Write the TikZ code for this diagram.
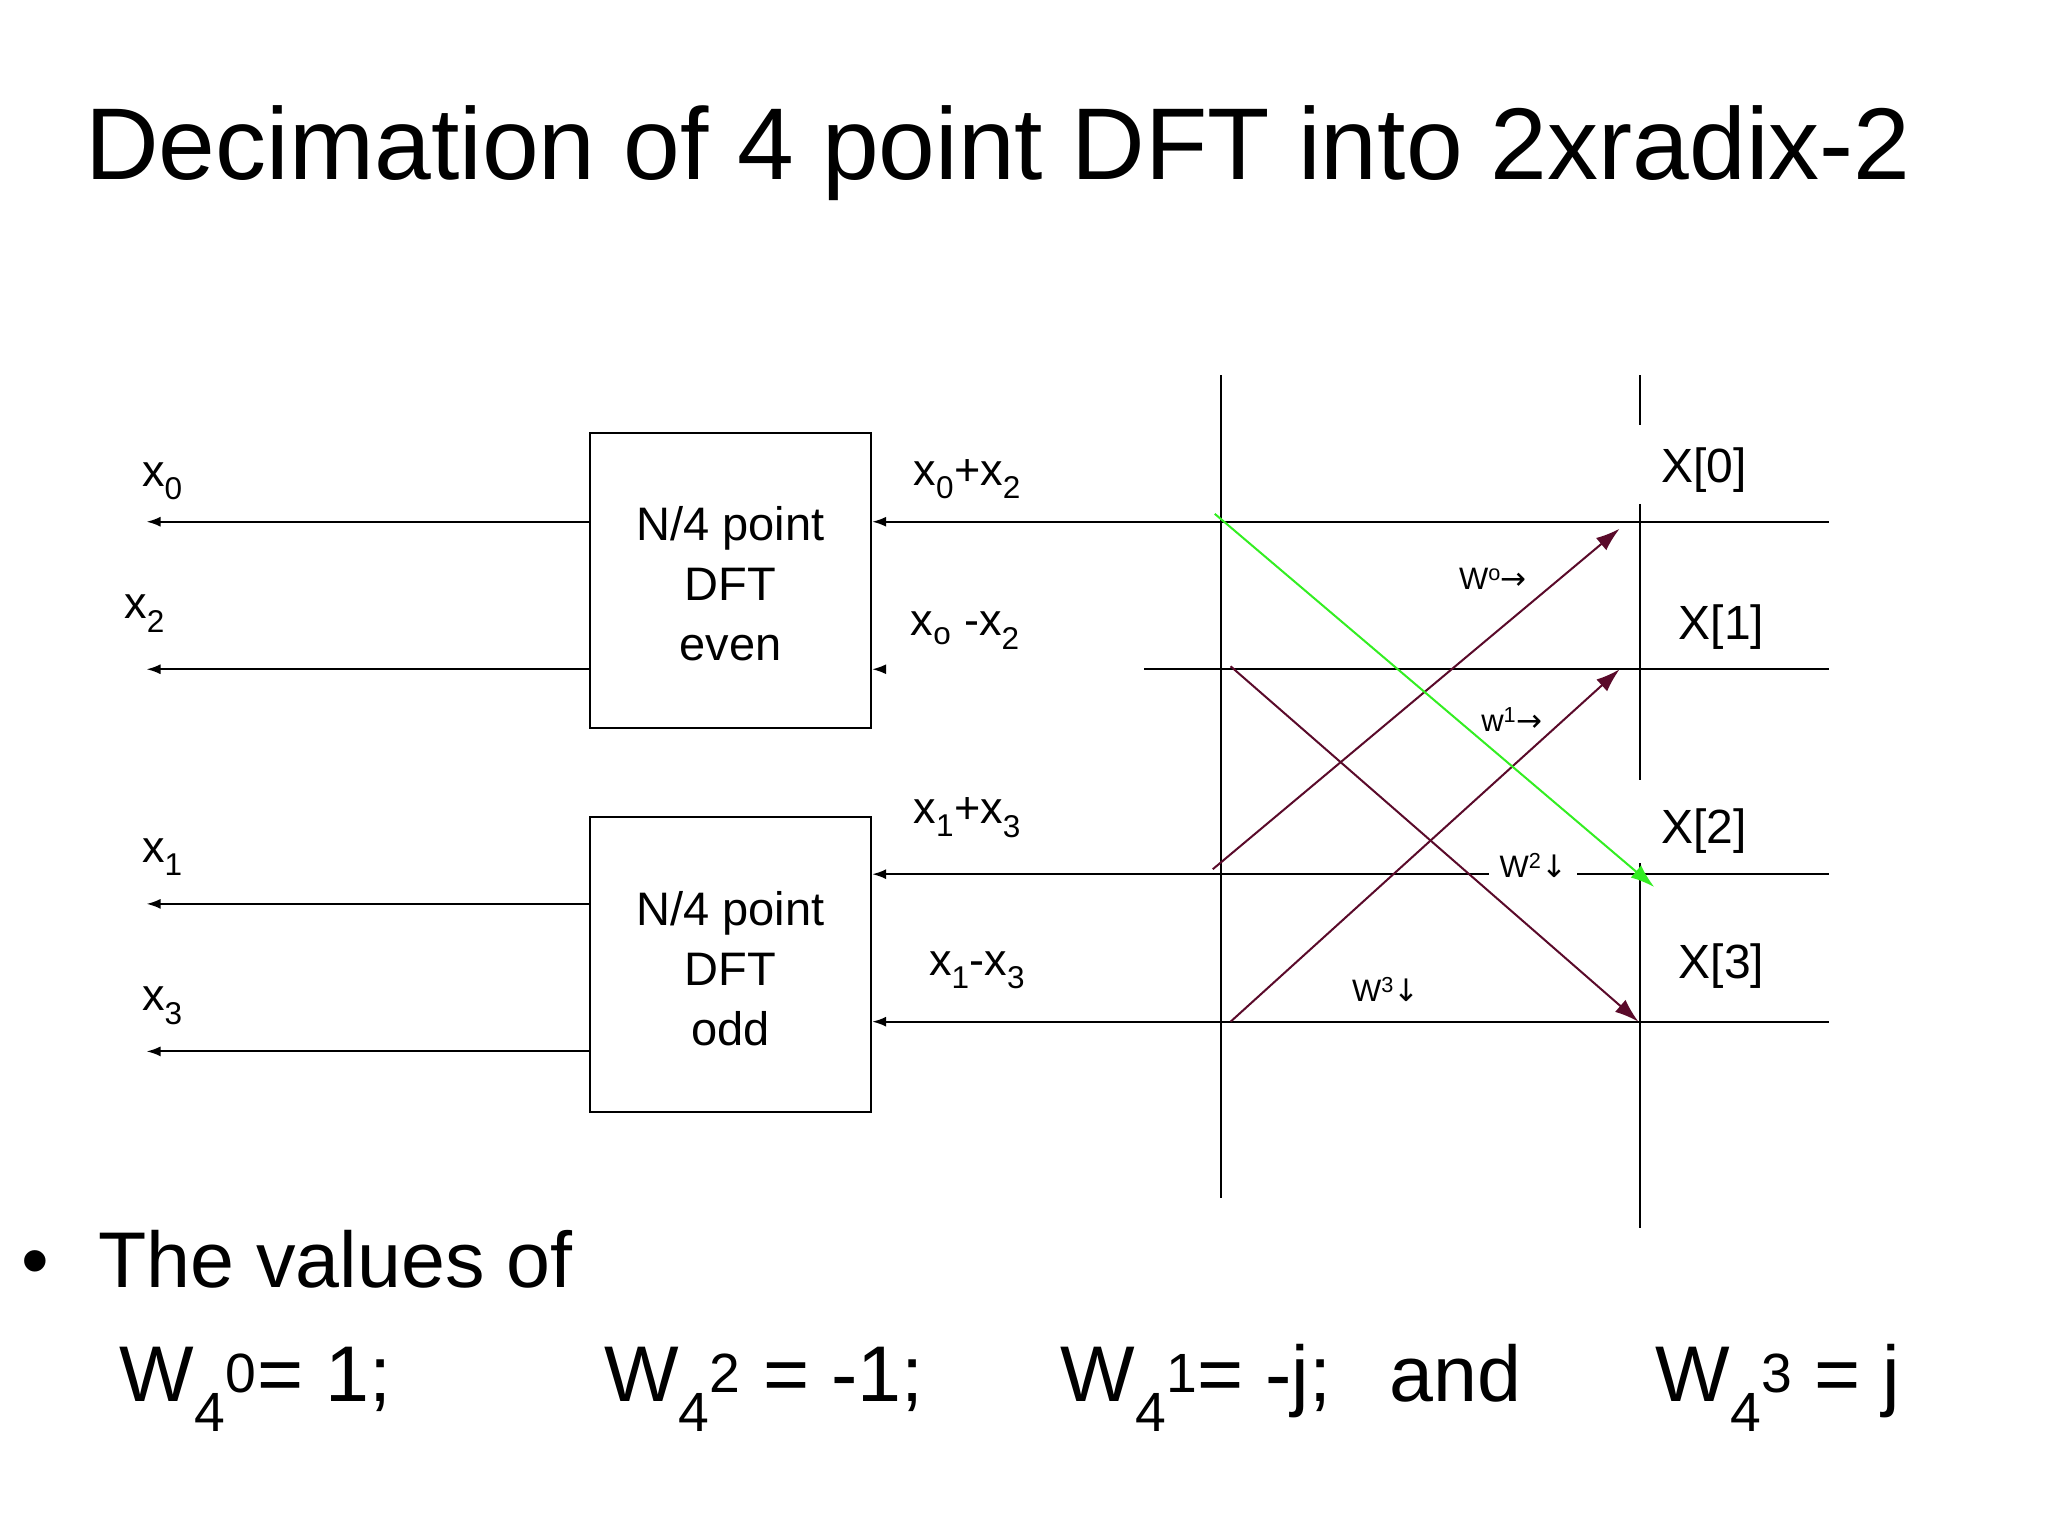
\documentclass[tikz,border=0pt]{standalone}
\usepackage{fontspec}
\setmainfont{Liberation Sans}
\newfontfamily\symf{DejaVu Sans}
\usetikzlibrary{arrows.meta}
\definecolor{maroon}{HTML}{5A0A2A}
\definecolor{grn}{HTML}{33EE22}
\begin{document}
\begin{tikzpicture}[x=0.99pt,y=-0.99pt,
  ln/.style={line width=2pt},
  arr/.style={ln,-{Latex[length=14pt,width=10pt]}},
  diag/.style={line width=2pt,-{Latex[length=24pt,width=16pt]}},
  lbl/.style={font=\fontsize{45}{50}\selectfont,inner sep=0pt},
  xlbl/.style={font=\fontsize{48}{50}\selectfont,inner sep=0pt},
  blab/.style={font=\fontsize{47}{60}\selectfont,align=center,inner sep=0pt},
  wlab/.style={font=\fontsize{31}{33}\selectfont,inner sep=0pt,fill=white},
  big/.style={font=\fontsize{79}{90}\selectfont,inner sep=0pt,anchor=base west}]
\useasboundingbox (0,0) rectangle (2068.7,1551.5);
\fill[white] (0,0) rectangle (2068.7,1551.5);
\node[font=\fontsize{102}{110}\selectfont,anchor=base west,inner sep=0pt] (title) at (86,181) {Decimation of 4 point DFT into 2xradix-2};
% boxes
\node[draw,ln,minimum width=281pt,minimum height=295pt,inner sep=0pt] (b1) at (738,586) {};
\node[draw,ln,minimum width=281pt,minimum height=295pt,inner sep=0pt] (b2) at (738,974) {};
\node[blab] (t1) at (738,590) {N/4 point\\DFT\\even};
\node[blab] (t2) at (738,978) {N/4 point\\DFT\\odd};
% coordinates
\coordinate (l1) at (148,527); \coordinate (l2) at (148,676);
\coordinate (l3) at (148,913); \coordinate (l4) at (148,1062);
\draw[arr] (b1.west |- l1) -- (l1);
\draw[arr] (b1.west |- l2) -- (l2);
\draw[arr] (b2.west |- l3) -- (l3);
\draw[arr] (b2.west |- l4) -- (l4);
\coordinate (r1) at (1847,527); \coordinate (r2) at (1847,676);
\coordinate (r3) at (1847,883); \coordinate (r4) at (1847,1032);
\coordinate (r2s) at (1156,676); \coordinate (g1) at (1504,883); \coordinate (g2) at (1593,883);
\draw[arr] (r1) -- (b1.east |- r1);
\draw[ln] (r2) -- (r2s);
\coordinate (a2) at (895,676);
\draw[arr] (a2) -- (b1.east |- r2);
\draw[arr] (g1) -- (b2.east |- r3);
\draw[ln] (g2) -- (r3);
\draw[arr] (r4) -- (b2.east |- r4);
% verticals
\coordinate (va1) at (1233,379); \coordinate (va2) at (1233,1210);
\draw[ln] (va1) -- (va2);
\coordinate (vb1) at (1657,379); \coordinate (vb2) at (1657,429);
\coordinate (vb3) at (1657,509); \coordinate (vb4) at (1657,788);
\coordinate (vb5) at (1657,872); \coordinate (vb6) at (1657,1240);
\draw[ln] (vb1) -- (vb2); \draw[ln] (vb3) -- (vb4); \draw[ln] (vb5) -- (vb6);
% diagonals
\coordinate (d1s) at (1225,878); \coordinate (d1e) at (1636,534);
\coordinate (d2s) at (1243,1032); \coordinate (d2e) at (1636,676);
\coordinate (d3s) at (1243,673); \coordinate (d3e) at (1655,1032);
\coordinate (gs) at (1227,519); \coordinate (ge) at (1671,896);
\draw[diag,maroon] (d1s) -- (d1e);
\draw[diag,maroon] (d2s) -- (d2e);
\draw[diag,maroon] (d3s) -- (d3e);
\draw[diag,grn] (gs) -- (ge);
% labels
\node[lbl] (x0) at (164,486) {x\textsubscript{0}};
\node[lbl] (x2) at (146,620) {x\textsubscript{2}};
\node[lbl] (x1) at (164,866) {x\textsubscript{1}};
\node[lbl] (x3) at (164,1016) {x\textsubscript{3}};
\node[lbl] (s1) at (977,484) {x\textsubscript{0}+x\textsubscript{2}};
\node[lbl] (s2) at (975,637) {x\textsubscript{o} -x\textsubscript{2}};
\node[lbl] (s3) at (977,826) {x\textsubscript{1}+x\textsubscript{3}};
\node[lbl] (s4) at (987,980) {x\textsubscript{1}-x\textsubscript{3}};
\node[xlbl] (X0) at (1721,475) {X[0]};
\node[xlbl] (X1) at (1739,633) {X[1]};
\node[xlbl] (X2) at (1721,839) {X[2]};
\node[xlbl] (X3) at (1739,976) {X[3]};
\node[wlab,fill=none] (w0) at (1508,585) {W\textsuperscript{o}{\symf →}};
\node[wlab,fill=none] (w1) at (1527,727) {w\textsuperscript{1}{\symf →}};
\node[wlab] (w2) at (1549,874) {W\textsuperscript{2}{\symf ↓}};
\node[wlab,fill=none] (w3) at (1400,999) {W\textsuperscript{3}{\symf ↓}};
% bottom
\node[big] (bul) at (22,1300) {•};
\node[big] (vals) at (99,1300) {The values of};
\node[big] (e1) at (121,1416) {W\textsubscript{4}\textsuperscript{0}= 1;};
\node[big] (e2) at (610,1416) {W\textsubscript{4}\textsuperscript{2} = -1;};
\node[big] (e3) at (1071,1416) {W\textsubscript{4}\textsuperscript{1}= -j;};
\node[big] (e4) at (1403,1416) {and};
\node[big] (e5) at (1672,1416) {W\textsubscript{4}\textsuperscript{3} = j};
\end{tikzpicture}
\end{document}
